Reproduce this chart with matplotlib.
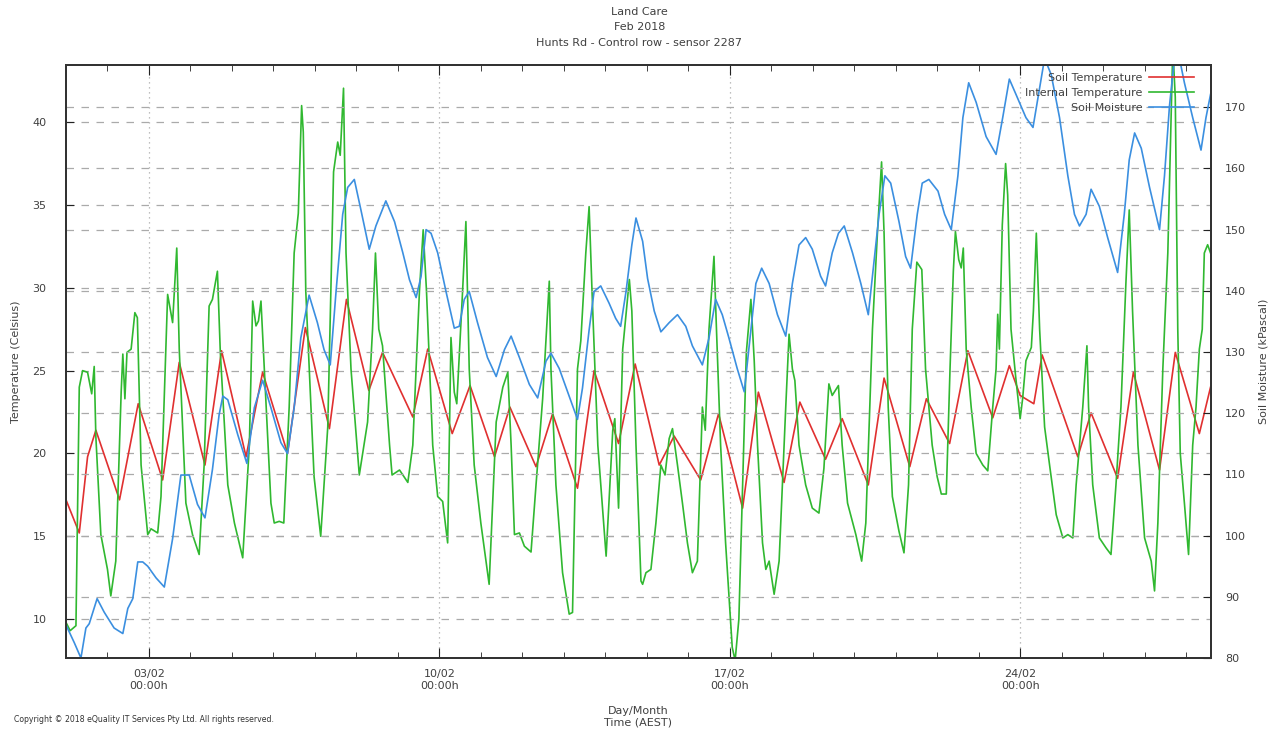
import pandas as pd
import matplotlib
matplotlib.use('Agg')
import matplotlib.pyplot as plt
import matplotlib.dates as mdates
from matplotlib.ticker import MultipleLocator

# dni od 01/02/2018 00:00 i odczytane wartosci
soil_temp_days = [0, 0.32, 0.52, 0.72, 1.29, 1.74, 2.33, 2.73, 3.35, 3.75, 4.34, 4.74, 5.34, 5.77,
                  6.35, 6.76, 7.30, 7.63, 8.36, 8.72, 9.31, 9.74, 10.33, 10.70, 11.33, 11.73, 12.33,
                  12.73, 13.32, 13.72, 14.30, 14.66, 15.30, 15.73, 16.31, 16.69, 17.31, 17.69, 18.31,
                  18.71, 19.34, 19.72, 20.34, 20.74, 21.30, 21.74, 22.34, 22.74, 23.0, 23.33, 23.53,
                  24.39, 24.71, 25.35, 25.73, 26.36, 26.74, 27.32, 27.59]
soil_temp = [17.2, 15.2, 19.8, 21.4, 17.2, 23.0, 18.4, 25.5, 19.3, 26.2, 19.8, 24.9, 20.0, 27.6,
             21.5, 29.3, 23.8, 26.1, 22.2, 26.3, 21.2, 24.1, 19.8, 22.8, 19.2, 22.4, 17.9,
             25.0, 20.6, 25.4, 19.3, 21.05, 18.4, 22.4, 16.7, 23.7, 18.25, 23.1, 19.65,
             22.1, 18.1, 24.55, 19.2, 23.3, 20.6, 26.2, 22.15, 25.3, 23.5, 23.0, 25.95,
             19.8, 22.45, 18.5, 24.9, 19.0, 26.1, 21.2, 24.0]

int_temp_days = [0.0, 0.1, 0.24, 0.32, 0.40, 0.52, 0.62, 0.68, 0.72, 0.84, 1.0, 1.08, 1.2, 1.33, 1.37,
                 1.42, 1.47, 1.57, 1.66, 1.72, 1.81, 1.97, 2.05, 2.21, 2.29, 2.45, 2.57, 2.67, 2.73,
                 2.89, 3.05, 3.21, 3.33, 3.45, 3.53, 3.65, 3.72, 3.90, 4.06, 4.26, 4.42, 4.50, 4.58,
                 4.64, 4.70, 4.78, 4.94, 5.02, 5.14, 5.25, 5.38, 5.50, 5.60, 5.68, 5.72, 5.78, 5.98,
                 6.14, 6.31, 6.45, 6.55, 6.61, 6.69, 6.75, 6.87, 7.07, 7.27, 7.39, 7.46, 7.54, 7.63,
                 7.67, 7.80, 7.86, 8.04, 8.12, 8.24, 8.36, 8.52, 8.61, 8.69, 8.84, 8.96, 9.08, 9.20,
                 9.28, 9.36, 9.42, 9.56, 9.64, 9.72, 9.84, 10.0, 10.20, 10.37, 10.53, 10.65, 10.73,
                 10.81, 10.93, 11.05, 11.21, 11.33, 11.49, 11.65, 11.69, 11.81, 11.97, 12.13, 12.21,
                 12.33, 12.41, 12.53, 12.61, 12.68, 12.82, 13.02, 13.18, 13.23, 13.32, 13.42, 13.58,
                 13.64, 13.74, 13.86, 13.9, 13.98, 14.1, 14.22, 14.34, 14.44, 14.54, 14.62, 14.74,
                 14.86, 14.98, 15.10, 15.22, 15.34, 15.41, 15.50, 15.62, 15.68, 15.78, 15.90, 16.06,
                 16.13, 16.22, 16.31, 16.40, 16.51, 16.59, 16.67, 16.79, 16.87, 16.95, 17.07, 17.19,
                 17.35, 17.43, 17.51, 17.57, 17.67, 17.83, 17.99, 18.15, 18.27, 18.39, 18.47, 18.62,
                 18.71, 18.84, 19.04, 19.18, 19.28, 19.44, 19.56, 19.66, 19.72, 19.82, 19.92, 20.08,
                 20.20, 20.31, 20.40, 20.51, 20.63, 20.72, 20.88, 21.0, 21.10, 21.22, 21.31, 21.39,
                 21.44, 21.52, 21.58, 21.63, 21.70, 21.82, 21.94, 22.10, 22.22, 22.34, 22.42, 22.46,
                 22.50, 22.57, 22.65, 22.70, 22.78, 22.89, 23.0, 23.06, 23.14, 23.27, 23.32, 23.39,
                 23.47, 23.59, 23.71, 23.87, 24.03, 24.15, 24.27, 24.35, 24.51, 24.61, 24.65, 24.75,
                 24.91, 25.07, 25.19, 25.31, 25.43, 25.55, 25.63, 25.71, 25.84, 26.0, 26.16, 26.24,
                 26.32, 26.44, 26.56, 26.64, 26.68, 26.74, 26.80, 26.86, 26.96, 27.06, 27.16, 27.24,
                 27.32, 27.39, 27.44, 27.52, 27.59]
int_temp = [9.8, 9.3, 9.6, 24.0, 25.0, 24.9, 23.6, 25.25, 21.0, 15.1, 13.0, 11.4, 13.5, 23.7, 26.0,
            23.3, 26.1, 26.3, 28.5, 28.2, 19.3, 15.1, 15.45, 15.2, 17.4, 29.6, 27.9, 32.4, 26.3,
            17.0, 15.1, 13.9, 19.3, 28.9, 29.3, 31.0, 26.1, 18.1, 15.8, 13.7, 20.5, 29.2, 27.7,
            28.0, 29.2, 25.1, 17.0, 15.8, 15.9, 15.8, 22.8, 32.1, 34.5, 41.0, 39.4, 29.8, 18.6,
            15.0, 21.6, 37.0, 38.8, 38.0, 42.05, 32.1, 25.1, 18.7, 21.9, 27.5, 32.1, 27.5, 26.5,
            25.1, 20.5, 18.7, 19.0, 18.7, 18.25, 20.5, 29.8, 33.5, 29.8, 20.5, 17.4, 17.1, 14.6,
            27.0, 23.7, 23.0, 29.8, 34.0, 25.1, 19.3, 15.8, 12.1, 21.9, 24.0, 24.9, 20.5,
            15.1, 15.2, 14.4, 14.05, 18.1, 23.3, 30.4, 25.1, 18.1, 12.8, 10.3, 10.4,
            25.1, 26.8, 32.1, 34.9, 29.8, 20.5, 13.8, 21.4, 22.1, 16.7, 26.3, 30.5,
            28.6, 20.5, 12.3, 12.1, 12.8, 13.0, 15.8, 19.3, 18.7, 20.9, 21.5, 19.3,
            17.0, 14.6, 12.8, 13.5, 22.8, 21.4, 27.5, 31.9, 27.5, 20.5, 14.6, 8.3,
            7.5, 10.0, 18.1, 26.1, 29.3, 25.6, 20.5, 14.6, 13.0, 13.5, 11.5, 13.5,
            22.8, 27.2, 25.1, 24.4, 20.5, 18.1, 16.7, 16.4, 19.1, 24.2, 23.5, 24.1,
            20.5, 17.0, 15.1, 13.5, 15.8, 27.5, 33.3, 37.6, 33.3, 22.8, 17.4, 15.3,
            14.0, 18.1, 27.5, 31.55, 31.1, 25.1, 20.5, 18.6, 17.55, 17.55, 25.1, 31.0,
            33.4, 31.7, 31.2, 32.4, 26.3, 22.8, 20.0, 19.3, 18.95, 22.8, 25.1, 28.4,
            26.3, 33.8, 37.5, 35.6, 27.5, 24.7, 22.1, 23.3, 25.6, 26.4, 28.6, 33.3,
            27.5, 21.6, 19.3, 16.3, 14.9, 15.1, 14.9, 18.1, 22.8, 26.5, 22.8, 18.1,
            14.9, 14.3, 13.9, 18.1, 22.8, 30.3, 34.7, 28.6, 20.5, 14.9, 13.5, 11.7,
            15.8, 25.1, 32.1, 40.3, 44.5, 41.5, 27.5, 20.0, 17.0, 13.9, 20.5, 22.8,
            26.3, 27.5, 32.1, 32.6, 32.1]

moisture_days = [0.0, 0.2, 0.36, 0.48, 0.56, 0.75, 0.92, 1.16, 1.37, 1.49, 1.61, 1.73, 1.85, 1.97,
                 2.17, 2.37, 2.57, 2.77, 2.97, 3.17, 3.35, 3.53, 3.69, 3.78, 3.90, 4.14, 4.36, 4.54,
                 4.74, 4.94, 5.18, 5.34, 5.50, 5.66, 5.86, 6.06, 6.22, 6.37, 6.51, 6.67, 6.79, 6.95,
                 7.11, 7.31, 7.47, 7.71, 7.92, 8.12, 8.28, 8.44, 8.56, 8.68, 8.80, 8.96, 9.16, 9.36,
                 9.48, 9.60, 9.72, 9.92, 10.16, 10.37, 10.57, 10.73, 10.93, 11.17, 11.37, 11.57,
                 11.69, 11.89, 12.13, 12.33, 12.45, 12.61, 12.73, 12.89, 13.09, 13.25, 13.37, 13.50,
                 13.64, 13.74, 13.90, 14.02, 14.18, 14.34, 14.54, 14.74, 14.94, 15.10, 15.34, 15.50,
                 15.66, 15.82, 15.98, 16.18, 16.35, 16.51, 16.63, 16.77, 16.95, 17.15, 17.35, 17.51,
                 17.67, 17.83, 17.99, 18.19, 18.31, 18.47, 18.62, 18.76, 18.96, 19.16, 19.34, 19.48,
                 19.60, 19.74, 19.88, 20.08, 20.24, 20.36, 20.52, 20.64, 20.80, 21.02, 21.18, 21.34,
                 21.50, 21.62, 21.76, 21.94, 22.18, 22.42, 22.58, 22.74, 22.90, 23.14, 23.31, 23.43,
                 23.59, 23.75, 23.95, 24.15, 24.31, 24.43, 24.59, 24.71, 24.91, 25.11, 25.35, 25.51,
                 25.63, 25.76, 25.92, 26.12, 26.36, 26.48, 26.60, 26.72, 26.84, 26.96, 27.16, 27.36,
                 27.48, 27.59]
moisture = [85.4, 82.5, 80.0, 84.9, 85.6, 89.7, 87.5, 84.9, 84.0, 88.1, 89.7, 95.7, 95.7, 95.0,
            93.1, 91.6, 99.5, 109.9, 109.9, 105.1, 102.9, 110.8, 119.7, 122.8, 122.2, 116.5, 111.8, 120.9,
            125.4, 120.9, 115.2, 113.4, 120.9, 132.3, 139.3, 134.8, 130.4, 127.9, 139.9, 152.5, 156.9, 158.2,
            153.2, 146.8, 150.6, 154.7, 151.3, 146.2, 141.8, 138.9, 142.4, 150.0, 149.4, 146.2, 139.9, 133.9,
            134.2, 138.6, 139.9, 134.8, 129.1, 126.0, 130.4, 132.6, 129.1, 124.7, 122.5, 128.5,
            129.8, 127.3, 122.8, 119.0, 124.1, 133.6, 139.9, 140.8, 138.0, 135.5, 134.2, 139.9,
            147.5, 151.9, 148.1, 142.0, 136.7, 133.3, 134.8, 136.1, 134.2, 131.0, 127.9, 132.3,
            138.6, 136.1, 132.3, 127.3, 123.5, 133.6, 141.2, 143.7, 141.2, 136.1, 132.6, 141.2,
            147.5, 148.7, 146.8, 142.4, 140.8, 146.2, 149.4, 150.6, 146.2, 141.2, 136.1, 144.9,
            152.5, 158.8, 157.6, 151.3, 145.6, 143.7, 152.5, 157.6, 158.2, 156.3, 152.5, 150.0,
            158.8, 168.3, 174.0, 170.8, 165.2, 162.3, 168.3, 174.6, 172.1, 168.3, 166.7, 171.5,
            178.0, 175.3, 168.3, 158.8, 152.5, 150.6, 152.5, 156.6, 153.8, 148.7, 143.0, 152.5,
            161.4, 165.8, 163.3, 156.9, 150.0, 158.8, 170.2, 178.0, 178.0, 174.0, 168.3, 163.0,
            168.3, 172.1]

start = pd.Timestamp('2018-02-01 00:00')


def to_time(days):
    return start + pd.to_timedelta(days, unit='D')


txt = '#404040'
plt.rcParams['font.family'] = ['DejaVu Sans']
plt.rcParams['font.size'] = 8

fig = plt.figure(figsize=(12.79, 7.33), dpi=100)
ax = fig.add_axes([0.0516, 0.1023, 0.8952, 0.8090])
ax2 = ax.twinx()

l1, = ax.plot(to_time(soil_temp_days), soil_temp, color='#e03030', lw=1.2, label='Soil Temperature')
l2, = ax.plot(to_time(int_temp_days), int_temp, color='#30b830', lw=1.2, label='Internal Temperature')
l3, = ax2.plot(to_time(moisture_days), moisture, color='#3b8fe0', lw=1.2, label='Soil Moisture')

ax.set_xlim(start, to_time(27.6))
ax.set_ylim(7.65, 43.45)
ax2.set_ylim(80, 176.9)

# os X - znaczniki co tydzien i co dzien
ax.xaxis.set_major_locator(mdates.DayLocator(bymonthday=[3, 10, 17, 24]))
ax.xaxis.set_minor_locator(mdates.DayLocator())
ax.xaxis.set_major_formatter(mdates.DateFormatter('%d/%m\n%H:%Mh'))
ax.yaxis.set_major_locator(MultipleLocator(5))
ax2.yaxis.set_major_locator(MultipleLocator(10))

ax.tick_params(axis='x', which='major', direction='in', length=7, top=True, colors='#222222',
               labelcolor=txt, labelsize=8, pad=8)
ax.tick_params(axis='x', which='minor', direction='in', length=4, top=True, colors='#222222')
ax.tick_params(axis='y', direction='in', length=6, colors='#222222', labelcolor=txt, labelsize=8, pad=14)
ax2.tick_params(axis='y', direction='in', length=6, colors='#222222', labelcolor=txt, labelsize=8, pad=10)

# siatka
ax.grid(axis='x', which='major', color='#aaaaaa', ls=(0, (1, 3)), lw=0.9)
ax.grid(axis='y', color='#aaaaaa', ls=(0, (6, 6)), lw=0.9)
ax2.grid(axis='y', color='#aaaaaa', ls=(0, (6, 6)), lw=0.9)

for a in (ax, ax2):
    for s in a.spines.values():
        s.set_color('#333333')
        s.set_linewidth(1.4)

ax.set_ylabel('Temperature (Celsius)', color=txt, fontsize=8, labelpad=8)
ax2.set_ylabel('Soil Moisture (kPascal)', color=txt, fontsize=8, rotation=90, labelpad=9)
ax.set_xlabel('Day/Month\nTime (AEST)', color=txt, fontsize=8, labelpad=11)

fig.text(0.5, 0.983, 'Land Care', ha='center', va='center', color=txt, fontsize=8)
fig.text(0.5, 0.963, 'Feb 2018', ha='center', va='center', color=txt, fontsize=8)
fig.text(0.5, 0.941, 'Hunts Rd - Control row - sensor 2287', ha='center', va='center', color=txt, fontsize=8)
fig.text(0.011, 0.019, 'Copyright \u00a9 2018 eQuality IT Services Pty Ltd. All rights reserved.',
         ha='left', va='center', color='#333333', fontsize=5.6)

leg = ax2.legend(handles=[l1, l2, l3], loc='upper right', bbox_to_anchor=(0.9935, 1.003),
                 frameon=False, markerfirst=False, handlelength=4.0, handletextpad=0.6,
                 labelspacing=0.45, fontsize=8)
for t in leg.get_texts():
    t.set_color(txt)

fig.savefig('out.png', dpi=100)
